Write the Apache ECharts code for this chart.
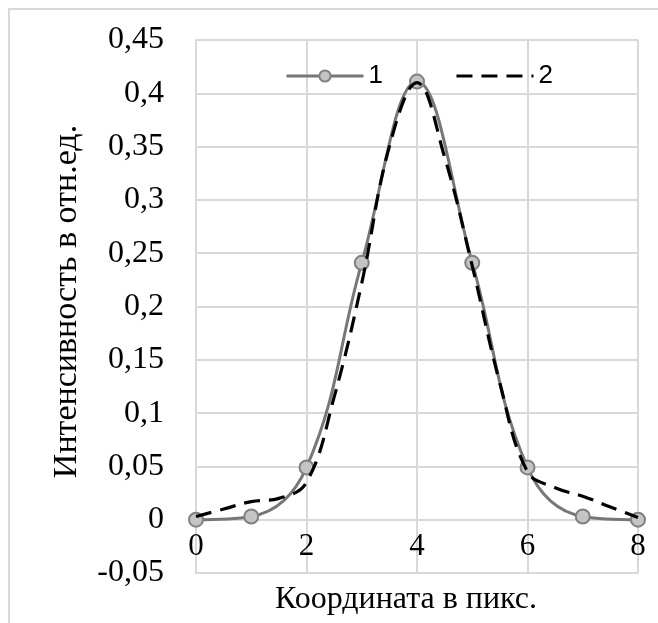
<!DOCTYPE html>
<html>
<head>
<meta charset="utf-8">
<script src="https://cdn.jsdelivr.net/npm/echarts@6/dist/echarts.min.js"></script>
<style>
html,body{margin:0;padding:0;background:#fff;}
#chart{width:658px;height:623px;}
</style>
</head>
<body>
<div id="chart"></div>
<script>
// Series 1: measured points (with markers)
const x1 = [0, 1, 2, 3, 4, 5, 6, 7, 8];
const y1 = [0, 0.003, 0.049, 0.241, 0.411, 0.241, 0.049, 0.003, 0];
// Series 2: dashed curve
const x2 = [0, 0.5, 1, 1.5, 2, 2.5, 3, 3.5, 4, 4.5, 5, 5.5, 6, 6.5, 7, 7.5, 8];
const y2 = [0.003, 0.01, 0.017, 0.02, 0.035, 0.115, 0.222, 0.35, 0.41, 0.34, 0.238, 0.128, 0.045, 0.03, 0.022, 0.012, 0.002];
const seriesNames = ['1', '2'];
const yTickLabels = ['-0,05', '0', '0,05', '0,1', '0,15', '0,2', '0,25', '0,3', '0,35', '0,4', '0,45'];
const xTickLabels = ['0', '2', '4', '6', '8'];
const yTitle = 'Интенсивность в отн.ед.';
const xTitle = 'Координата в пикс.';

const yMin = -0.05, yMax = 0.45, yInt = 0.05;
const xMin = 0, xMax = 8, xInt = 2;

const gridTop = 40, gridBottom = 50, H = 623;
const zeroOffset = -(H - gridTop - gridBottom) * (0 - yMin) / (yMax - yMin);

const chart = echarts.init(document.getElementById('chart'), null, {renderer: 'canvas'});
const serif = 'Liberation Serif';
const gridColor = '#d9d9d9';

chart.setOption({
  animation: false,
  backgroundColor: '#ffffff',
  graphic: [{
    type: 'rect',
    shape: {x: 9, y: 9, width: 800, height: 800},
    style: {fill: 'none', stroke: '#d9d9d9', lineWidth: 2},
    silent: true, z: -10
  }],
  grid: {left: 196, right: 20, top: gridTop, bottom: gridBottom, containLabel: false, outerBoundsMode: 'none'},
  legend: {
    data: [
      {name: seriesNames[0], lineStyle: {width: 3}},
      {name: seriesNames[1], lineStyle: {width: 3}, itemStyle: {opacity: 0}}
    ],
    left: 280, top: 58,
    itemWidth: 77, itemHeight: 14, itemGap: 72,
    textStyle: {fontFamily: 'Liberation Sans', fontSize: 26, color: '#000'}
  },
  xAxis: {
    type: 'value', min: xMin, max: xMax, interval: xInt,
    offset: zeroOffset,
    name: xTitle, nameLocation: 'middle', nameGap: 64,
    nameTextStyle: {fontFamily: serif, fontSize: 32, color: '#000', padding: [0, 22, 0, 0]},
    axisLine: {show: true, onZero: false, lineStyle: {color: gridColor, width: 2}},
    axisTick: {show: false},
    axisLabel: {
      fontFamily: serif, fontSize: 31, color: '#000', margin: 12,
      formatter: function (v) { return xTickLabels[Math.round((v - xMin) / xInt)]; }
    },
    splitLine: {show: true, lineStyle: {color: gridColor, width: 2}}
  },
  yAxis: {
    type: 'value', min: yMin, max: yMax, interval: yInt,
    name: yTitle, nameLocation: 'middle', nameGap: 112,
    nameTextStyle: {fontFamily: serif, fontSize: 34, color: '#000', padding: [0, 0, 0, 10]},
    axisLine: {show: true, onZero: false, lineStyle: {color: gridColor, width: 2}},
    axisTick: {show: false},
    axisLabel: {
      fontFamily: serif, fontSize: 32, color: '#000', margin: 32,
      formatter: function (v) { return yTickLabels[Math.round((v - yMin) / yInt)]; }
    },
    splitLine: {show: true, lineStyle: {color: gridColor, width: 2}}
  },
  series: [
    {
      name: seriesNames[0], type: 'line', smooth: 0.4,
      data: x1.map((x, i) => [x, y1[i]]),
      symbol: 'circle', symbolSize: 14,
      lineStyle: {color: '#777777', width: 3},
      itemStyle: {color: '#c4c4c4', borderColor: '#808080', borderWidth: 2},
      z: 2
    },
    {
      name: seriesNames[1], type: 'line', smooth: 0.4,
      data: x2.map((x, i) => [x, y2[i]]),
      symbol: 'none',
      lineStyle: {color: '#000000', width: 3.2, type: [16, 9]},
      itemStyle: {color: '#000000'},
      z: 3
    }
  ]
});
</script>
</body>
</html>
